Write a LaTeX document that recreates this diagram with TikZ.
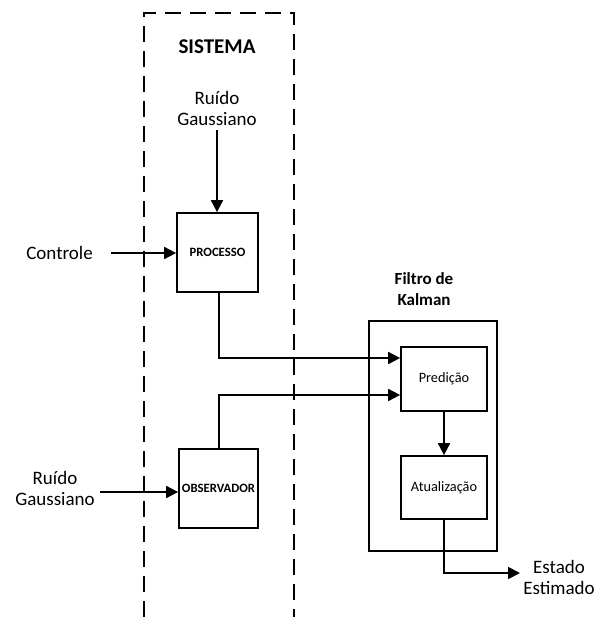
\documentclass[tikz,border=0pt]{standalone}
\usepackage{fontspec}
\setmainfont{Carlito}
\usetikzlibrary{arrows.meta}
\begin{document}
\begin{tikzpicture}[x=1pt,y=-1pt,
  blk/.style={draw,line width=1.7pt,inner sep=0pt},
  conn/.style={line width=1.7pt,-{Triangle[length=12pt,width=12pt]}},
  lbl/.style={font=\fontsize{19}{21}\selectfont,align=center,inner sep=0pt},
  small/.style={font=\fontsize{12.7}{14}\selectfont\bfseries,inner sep=0pt},
  mid/.style={font=\fontsize{14.3}{16}\selectfont,inner sep=0pt},
  title/.style={font=\fontsize{17}{21}\selectfont\bfseries,align=center,inner sep=0pt}]
\useasboundingbox (0,0) rectangle (596,617);
% dashed system boundary
\draw[line width=2.4pt,dash pattern=on 16pt off 9pt] (144,617) -- (144,13) -- (294,13) -- (294,617);
\node[title,font=\fontsize{21}{24}\selectfont\bfseries] (sis) at (217,47) {SISTEMA};
\node[lbl] (rg1) at (217,108) {Ruído\\Gaussiano};
\node[blk,minimum width=81pt,minimum height=79pt] (proc) at (217.5,252.5) {};
\node[small] at (proc.center) {PROCESSO};
\node[lbl,anchor=east] (ctrl) at (93,253) {Controle};
\node[blk,minimum width=79pt,minimum height=79pt] (obs) at (218.5,488.5) {};
\node[small] at (obs.center) {OBSERVADOR};
\node[lbl] (rg2) at (55,488) {Ruído\\Gaussiano};
% Kalman
\node[title] (kt) at (424,289) {Filtro de\\Kalman};
\node[blk,minimum width=128pt,minimum height=230pt] (kal) at (433,436) {};
\node[blk,minimum width=86pt,minimum height=64pt] (pred) at (444,379) {};
\node[mid] at (pred.center) {Predição};
\node[blk,minimum width=86pt,minimum height=63pt] (atu) at (444,487.5) {};
\node[mid] at (atu.center) {Atualização};
\node[lbl] (est) at (559,577) {Estado\\Estimado};
% connectors
\coordinate (c1) at (111,253);
\coordinate (c2) at (100,492);
\coordinate (c3) at (217,130);
\coordinate (c4) at (520,573);
\draw[conn] (c3) -- (c3 |- proc.north);
\draw[conn] (c1) -- (c1 -| proc.west);
\draw[conn] (c2) -- (c2 -| obs.west);
\draw[conn] (proc.south -| 219,0) -- (219,358) -- (pred.west |- 0,358);
\draw[conn] (obs.north -| 219,0) -- (219,395) -- (pred.west |- 0,395);
\draw[conn] (pred.south) -- (atu.north);
\draw[conn] (atu.south) -- (444,573) -- (c4);
\end{tikzpicture}
\end{document}
